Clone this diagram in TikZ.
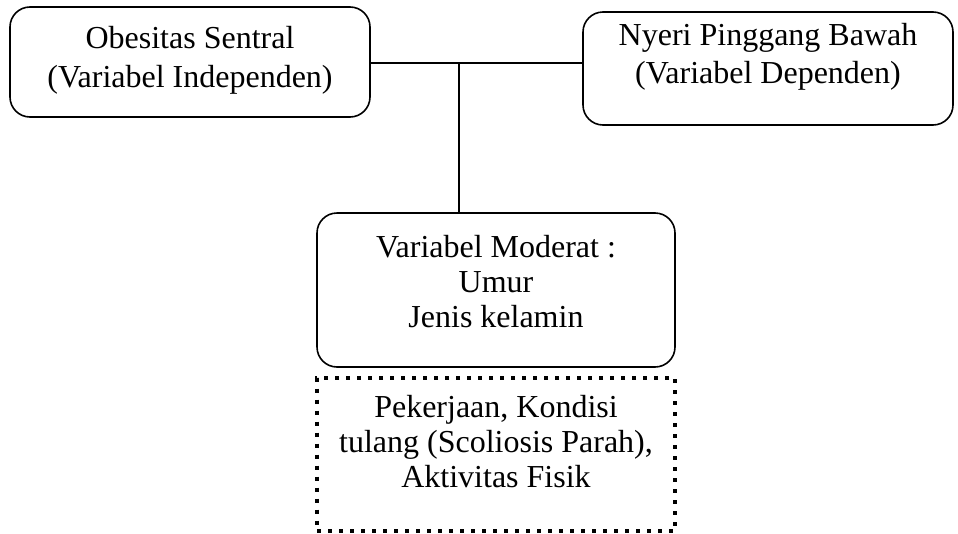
\documentclass[tikz,border=0pt]{standalone}
\usepackage{fontspec}
\setmainfont{Liberation Serif}
\newcommand\boxlines[2]{\vtop{\baselineskip=#1pt\lineskiplimit=-100pt\halign{\hfil##\hfil\cr#2\crcr}}}
\begin{document}
\begin{tikzpicture}[x=1pt,y=-1pt,
  box/.style={draw, line width=1.6pt, rounded corners=20pt, inner sep=0pt},
  dotbox/.style={draw, line width=4pt, dash pattern=on 4pt off 7pt, inner sep=0pt},
  txt/.style={font=\fontsize{32}{37}\selectfont, inner sep=0pt, anchor=base},
  conn/.style={line width=1.6pt}]
\useasboundingbox (0,0) rectangle (958,533);
\node[box, minimum width=360pt, minimum height=110pt] (b1) at (190,62) {};
\node[box, minimum width=370pt, minimum height=113pt] (b2) at (768,68.5) {};
\node[box, minimum width=358pt, minimum height=154pt] (b3) at (496,290) {};
\node[dotbox, minimum width=358pt, minimum height=153pt] (b4) at (496,454) {};
\node[txt] (t1) at (190,48) {\boxlines{39}{Obesitas Sentral\cr(Variabel Independen)}};
\node[txt] (t2) at (768,45) {\boxlines{38}{Nyeri Pinggang Bawah\cr(Variabel Dependen)}};
\node[txt] (t3) at (496,257) {\boxlines{35}{Variabel Moderat :\cr Umur\cr Jenis kelamin}};
\node[txt] (t4) at (496,417) {\boxlines{35}{Pekerjaan, Kondisi\cr tulang (Scoliosis Parah),\cr Aktivitas Fisik}};
\coordinate (j) at (459,63);
\draw[conn] (b1.east |- j) -- (b2.west |- j);
\draw[conn] (j) -- (j |- b3.north);
\end{tikzpicture}
\end{document}
